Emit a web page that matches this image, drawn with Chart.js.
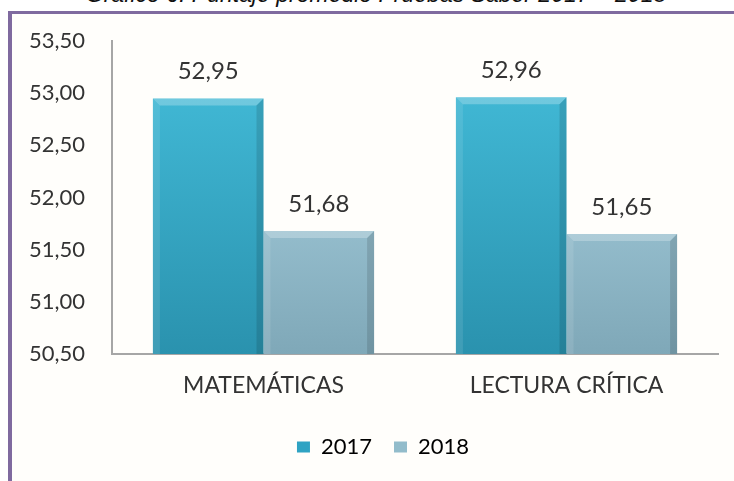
<!DOCTYPE html>
<html>
<head>
<meta charset="utf-8">
<script src="https://cdn.jsdelivr.net/npm/chart.js@4/dist/chart.umd.min.js"></script>
<style>
  html, body { margin: 0; padding: 0; background: #fff; overflow: hidden; }
  #wrap { position: relative; width: 734px; height: 481px; }
  #title {
    position: absolute; left: 0; width: 752px; top: -17px;
    text-align: center; font: italic 23px "Liberation Sans", Arial, sans-serif;
    line-height: 1; color: #111; white-space: nowrap;
  }
  #frame {
    position: absolute; left: 8px; top: 11px; width: 740px; height: 480px;
    border-top: 3px solid #7f6a9f; border-left: 4px solid #7f6a9f;
    background: #fffefb;
  }
  canvas { position: absolute; left: 0; top: 0; }
</style>
</head>
<body>
<div id="wrap">
  <div id="title">Gráfico 6. Puntaje promedio Pruebas Saber 2017 – 2018</div>
  <div id="frame"></div>
  <canvas id="chart" width="734" height="481"></canvas>
</div>
<script>
const categories = ["MATEMÁTICAS", "LECTURA CRÍTICA"];
const years = ["2017", "2018"];
const values2017 = [52.95, 52.96];
const values2018 = [51.68, 51.65];
const yMin = 50.5, yMax = 53.5, yStep = 0.5;

// colores de cada serie: [arriba, abajo, leyenda]
const colors2017 = ["#45bfdc", "#2a92ae", "#2fa3c3"];
const colors2018 = ["#b3dbea", "#7fa8b8", "#92bccb"];

const fmt = v => v.toFixed(2).replace(".", ",");
const FONT = "Lato, 'Open Sans', sans-serif";

function gradientFor(cols) {
    return (ctx) => {
        const chart = ctx.chart;
        const area = chart.chartArea;
        if (!area) return cols[2];
        const g = chart.ctx.createLinearGradient(0, area.top, 0, area.bottom);
        g.addColorStop(0, cols[0]);
        g.addColorStop(1, cols[1]);
        return g;
    };
}

// bisel simple sobre cada barra
const bevelPlugin = {
    id: "bevel",
    afterDatasetsDraw(chart) {
        const ctx = chart.ctx;
        const area = chart.chartArea;
        chart.data.datasets.forEach((ds, i) => {
            chart.getDatasetMeta(i).data.forEach(bar => {
                const l = bar.x - bar.width / 2, r = bar.x + bar.width / 2;
                const t = bar.y, b = Math.min(bar.base, area.bottom), d = 7;
                ctx.save();
                ctx.fillStyle = "rgba(255,255,255,0.25)";
                ctx.beginPath();
                ctx.moveTo(l, t); ctx.lineTo(r, t); ctx.lineTo(r - d, t + d); ctx.lineTo(l + d, t + d);
                ctx.closePath(); ctx.fill();
                ctx.fillStyle = "rgba(0,0,0,0.12)";
                ctx.beginPath();
                ctx.moveTo(r, t); ctx.lineTo(r, b); ctx.lineTo(r - d, b); ctx.lineTo(r - d, t + d);
                ctx.closePath(); ctx.fill();
                ctx.fillStyle = "rgba(255,255,255,0.10)";
                ctx.beginPath();
                ctx.moveTo(l, t); ctx.lineTo(l + d, t + d); ctx.lineTo(l + d, b); ctx.lineTo(l, b);
                ctx.closePath(); ctx.fill();
                ctx.restore();
            });
        });
    }
};

// etiquetas de valor encima de las barras
const valueLabels = {
    id: "valueLabels",
    afterDatasetsDraw(chart) {
        const ctx = chart.ctx;
        ctx.save();
        ctx.font = "24px " + FONT;
        ctx.fillStyle = "#333";
        ctx.textAlign = "center";
        ctx.textBaseline = "middle";
        chart.data.datasets.forEach((ds, i) => {
            chart.getDatasetMeta(i).data.forEach((bar, j) => {
                ctx.fillText(fmt(ds.data[j]), bar.x, bar.y - 27);
            });
        });
        ctx.restore();
    }
};

// la leyenda del original está algo a la derecha del centro
const legendShift = {
    id: "legendShift",
    afterLayout(chart) {
        if (chart.legend) {
            chart.legend.left += 24;
            chart.legend.right += 24;
        }
    }
};

new Chart(document.getElementById("chart"), {
    type: "bar",
    data: {
        labels: categories,
        datasets: [
            { label: years[0], data: values2017, backgroundColor: gradientFor(colors2017), legendColor: colors2017[2] },
            { label: years[1], data: values2018, backgroundColor: gradientFor(colors2018), legendColor: colors2018[2] },
        ],
    },
    options: {
        responsive: false,
        animation: false,
        devicePixelRatio: 1,
        categoryPercentage: 0.73,
        barPercentage: 1,
        layout: { padding: { top: 41, right: 16, left: 0, bottom: 13 } },
        scales: {
            x: {
                grid: { display: false },
                border: { display: true, color: "#a6a6a6", width: 2 },
                ticks: { color: "#333", font: { family: FONT, size: 23 }, padding: 10 },
                afterFit: (s) => { s.height = 60; },
            },
            y: {
                min: yMin, max: yMax,
                grid: { display: false, drawTicks: false },
                border: { display: true, color: "#a6a6a6", width: 2 },
                ticks: {
                    stepSize: yStep, color: "#333", padding: 27,
                    font: { family: FONT, size: 22 },
                    callback: (v) => fmt(v),
                },
                afterFit: (s) => { s.width = 112; },
            },
        },
        plugins: {
            tooltip: { enabled: false },
            legend: {
                position: "bottom",
                labels: {
                    color: "#333", boxWidth: 13, boxHeight: 11, padding: 22,
                    font: { family: FONT, size: 22 },
                    generateLabels: (chart) => chart.data.datasets.map((ds, i) => ({
                        text: ds.label, fillStyle: ds.legendColor, strokeStyle: ds.legendColor,
                        lineWidth: 0, datasetIndex: i, hidden: false,
                    })),
                },
            },
        },
    },
    plugins: [bevelPlugin, valueLabels, legendShift],
});
</script>
</body>
</html>
